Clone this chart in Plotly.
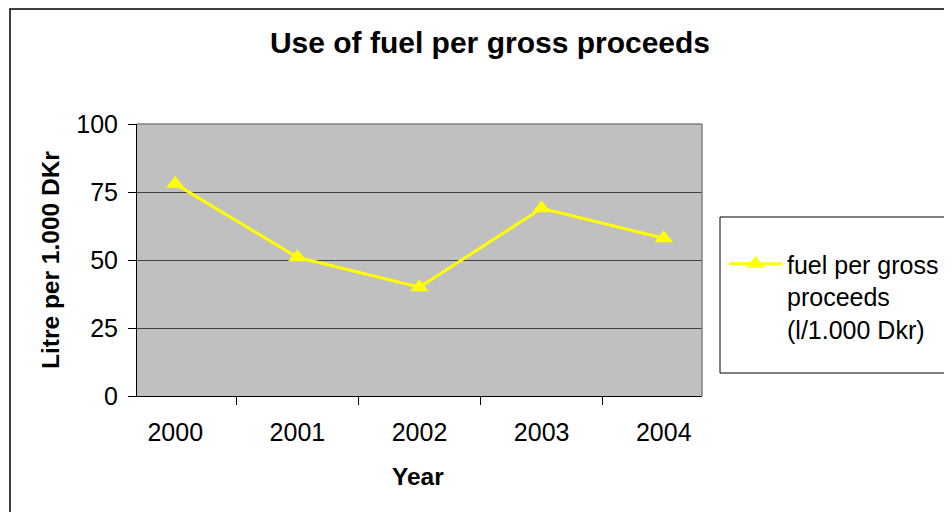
import plotly.graph_objects as go

years = ["2000", "2001", "2002", "2003", "2004"]
fuel_per_proceeds = [78, 51, 40, 69, 58]
y_ticks = [0, 25, 50, 75, 100]
series_name = "fuel per gross<br>proceeds<br>(l/1.000 Dkr)"

FONT = "Liberation Sans, Arial, sans-serif"
W, H = 952, 512
OFF = 8  # page body margin offset
# plot area in page pixels: x 137..702, y 124..396
L = 137 - OFF
T = 124 - OFF
R = W - (702 - OFF)
B = H - (396 - OFF)
PW = W - L - R
PH = H - T - B

def px(x):  # page pixel -> paper
    return (x - OFF - L) / PW

def py(y):
    return (H - B - (y - OFF)) / PH

fig = go.Figure()
fig.add_trace(go.Scatter(
    x=years, y=fuel_per_proceeds, mode="lines+markers", name=series_name,
    line=dict(color="#FFFF00", width=3),
    marker=dict(symbol="triangle-up", size=16, color="#FFFF00"),
))

fig.update_layout(
    width=W, height=H,
    margin=dict(l=L, r=R, t=T, b=B),
    paper_bgcolor="white", plot_bgcolor="#C0C0C0",
    font=dict(family=FONT, size=25, color="black"),
    title=dict(text="<b>Use of fuel per gross proceeds</b>", x=(490 - OFF) / W, xref="container",
               xanchor="center", y=1 - (42 - OFF) / H, yref="container", yanchor="middle",
               font=dict(size=30, family=FONT, color="black")),
    showlegend=True,
    legend=dict(x=px(724), y=py(241), xanchor="left", yanchor="top",
                bgcolor="rgba(0,0,0,0)", borderwidth=0, valign="top",
                font=dict(size=25, family=FONT, color="black"), itemwidth=53),
    xaxis=dict(type="category", tickson="boundaries", ticks="outside", ticklen=8,
               tickcolor="black", showgrid=False, showline=True, linecolor="black",
               linewidth=1, mirror=False, ticklabelstandoff=14),
    yaxis=dict(range=[0, 100], tickvals=y_ticks, ticks="outside", ticklen=8,
               tickcolor="black", showgrid=True, gridcolor="#404040", gridwidth=1,
               showline=True, linecolor="black", linewidth=1, zeroline=False,
               ticklabelstandoff=5),
    shapes=[
        dict(type="line", xref="paper", yref="paper", x0=0, x1=1, y0=1, y1=1,
             line=dict(color="#808080", width=1.5)),
        dict(type="line", xref="paper", yref="paper", x0=1, x1=1, y0=0, y1=1,
             line=dict(color="#808080", width=1.5)),
        dict(type="rect", xref="paper", yref="paper", x0=px(10), x1=px(975), y0=py(9), y1=py(540),
             line=dict(color="black", width=1.5), fillcolor="rgba(0,0,0,0)", layer="below"),
        dict(type="rect", xref="paper", yref="paper", x0=px(720), x1=px(951.5), y0=py(217), y1=py(373),
             line=dict(color="black", width=1), fillcolor="white", layer="below"),
    ],
    annotations=[
        dict(text="<b>Litre per 1.000 DKr</b>", xref="paper", yref="paper", x=px(50), y=py(260),
             textangle=-90, showarrow=False, xanchor="center", yanchor="middle",
             font=dict(size=24.5, family=FONT, color="black")),
        dict(text="<b>Year</b>", xref="paper", yref="paper", x=px(418), y=py(476),
             showarrow=False, xanchor="center", yanchor="middle",
             font=dict(size=24.5, family=FONT, color="black")),
    ],
)

fig.write_html("out.html")
